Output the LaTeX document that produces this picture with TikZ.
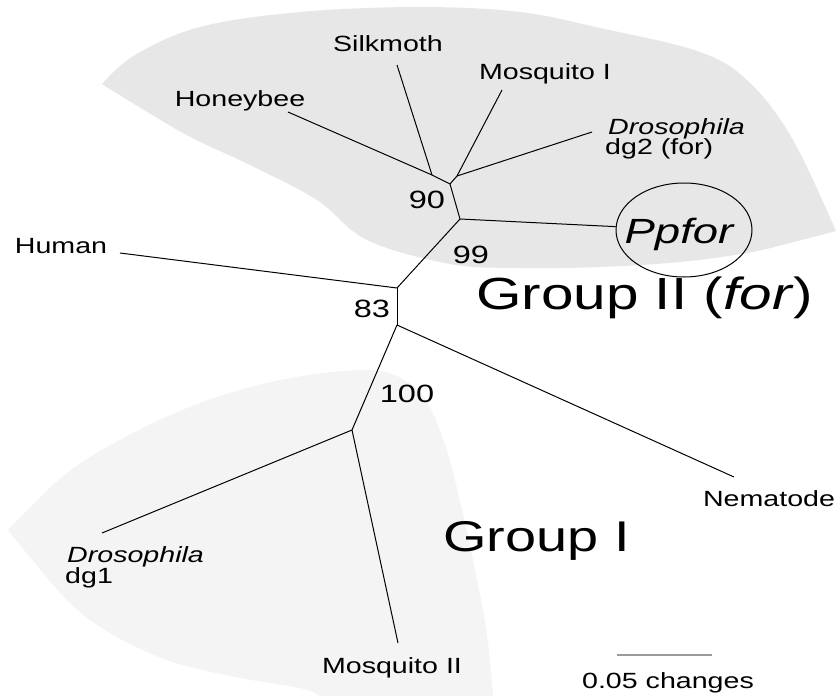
\documentclass[tikz,border=0pt]{standalone}
\usepackage{fontspec}
\setmainfont{Liberation Sans}[FakeStretch=1.3]
\usetikzlibrary{shapes.geometric}
\definecolor{shadeII}{HTML}{E7E7E7}
\definecolor{shadeI}{HTML}{F4F4F4}
\definecolor{barcol}{HTML}{9A9A9A}
\begin{document}
\begin{tikzpicture}[x=1pt,y=-1pt,
  br/.style={line width=1pt, black},
  leaf/.style={inner sep=0pt, anchor=base, font=\fontsize{22}{24}\selectfont},
  leafw/.style={inner sep=0pt, anchor=base west, font=\fontsize{22}{24}\selectfont},
  boot/.style={inner sep=0pt, anchor=base, font=\fontsize{25}{27}\selectfont},
  grp/.style={inner sep=0pt, anchor=base west},
]
\path[use as bounding box, fill=white] (0,0) rectangle (839,696);

% shaded groups (sharp tips)
\fill[shadeII]
  plot[smooth, tension=0.6] coordinates {
    (102,84) (135,55) (200,27) (300,12) (420,7) (520,12) (600,28) (700,52)
    (750,83) (793,140) (836,231)}
  -- plot[smooth, tension=0.6] coordinates {
    (836,231) (790,243) (747,253) (680,262) (600,267)
    (520,268) (450,264) (367,240) (317,200) (250,165) (183,133) (102,84)}
  -- cycle;
\fill[shadeI]
  plot[smooth, tension=0.6] coordinates {
    (8,530) (67,473) (133,433) (200,403) (267,383) (333,372) (385,372)
    (422,395) (445,445) (462,510) (476,575) (487,635) (493,696)}
  -- (320,696)
  -- plot[smooth, tension=0.6] coordinates {
    (320,696) (300,688) (230,676) (167,660) (110,633) (67,600) (8,530)}
  -- cycle;

% internal nodes
\coordinate (A) at (432,175);
\coordinate (B) at (457,176);
\coordinate (C) at (450,184);
\coordinate (D) at (460,219);
\coordinate (E) at (397,288);
\coordinate (F) at (397,325);
\coordinate (G) at (352,430);
% leaf ends
\coordinate (lhb) at (288,112);
\coordinate (lsm) at (397,65);
\coordinate (lmq1) at (502,90);
\coordinate (ldg2) at (592,132);
\coordinate (lhu) at (120,253);
\coordinate (lne) at (734,477);
\coordinate (ldg1) at (102,533);
\coordinate (lmq2) at (398,643);

% Ppfor circle
\node[ellipse, draw, line width=1pt, minimum width=136pt, minimum height=94pt, inner sep=0pt] (ppc) at (684,230) {};
\node[inner sep=0pt, anchor=base, font=\itshape\fontsize{35}{38}\selectfont] (ppfor) at (679,243) {Ppfor};

% branches
\draw[br] (lhb) -- (A);
\draw[br] (lsm) -- (A);
\draw[br] (lmq1) -- (B);
\draw[br] (ldg2) -- (B);
\draw[br] (A) -- (C);
\draw[br] (B) -- (C);
\draw[br] (C) -- (D);
\draw[br] (D) -- (ppc);
\draw[br] (D) -- (E);
\draw[br] (lhu) -- (E);
\draw[br] (E) -- (F);
\draw[br] (F) -- (lne);
\draw[br] (F) -- (G);
\draw[br] (G) -- (ldg1);
\draw[br] (G) -- (lmq2);

% leaf labels
\node[leaf] (tsm) at (388,52) {Silkmoth};
\node[leaf] (tmq1) at (545,79) {Mosquito I};
\node[leaf] (thb) at (240,106) {Honeybee};
\node[leafw] (tdg2a) at (608,134) {\textit{Drosophila}};
\node[leafw] (tdg2b) at (605,154) {dg2 (for)};
\node[leaf] (thu) at (61,253) {Human};
\node[leaf] (tne) at (769,506) {Nematode};
\node[leafw] (tdg1a) at (67,562) {\textit{Drosophila}};
\node[leafw] (tdg1b) at (65,583) {dg1};
\node[leaf] (tmq2) at (392,673) {Mosquito II};

% bootstrap values
\node[boot] (b90) at (427,208) {90};
\node[boot] (b99) at (471,263) {99};
\node[boot] (b83) at (372,317) {83};
\node[boot] (b100) at (407,402) {100};

% group labels
\node[grp, font=\fontsize{45}{50}\selectfont] (g2) at (476,309) {Group II (\textit{for})};
\node[grp, font=\fontsize{43}{48}\selectfont] (g1) at (443,551) {Group I};

% scale bar
\coordinate (sb1) at (617,655);
\coordinate (sb2) at (712,655);
\draw[barcol, line width=2.5pt] (sb1) -- (sb2);
\node[leaf] (tsb) at (668,688) {0.05 changes};
\end{tikzpicture}
\end{document}
